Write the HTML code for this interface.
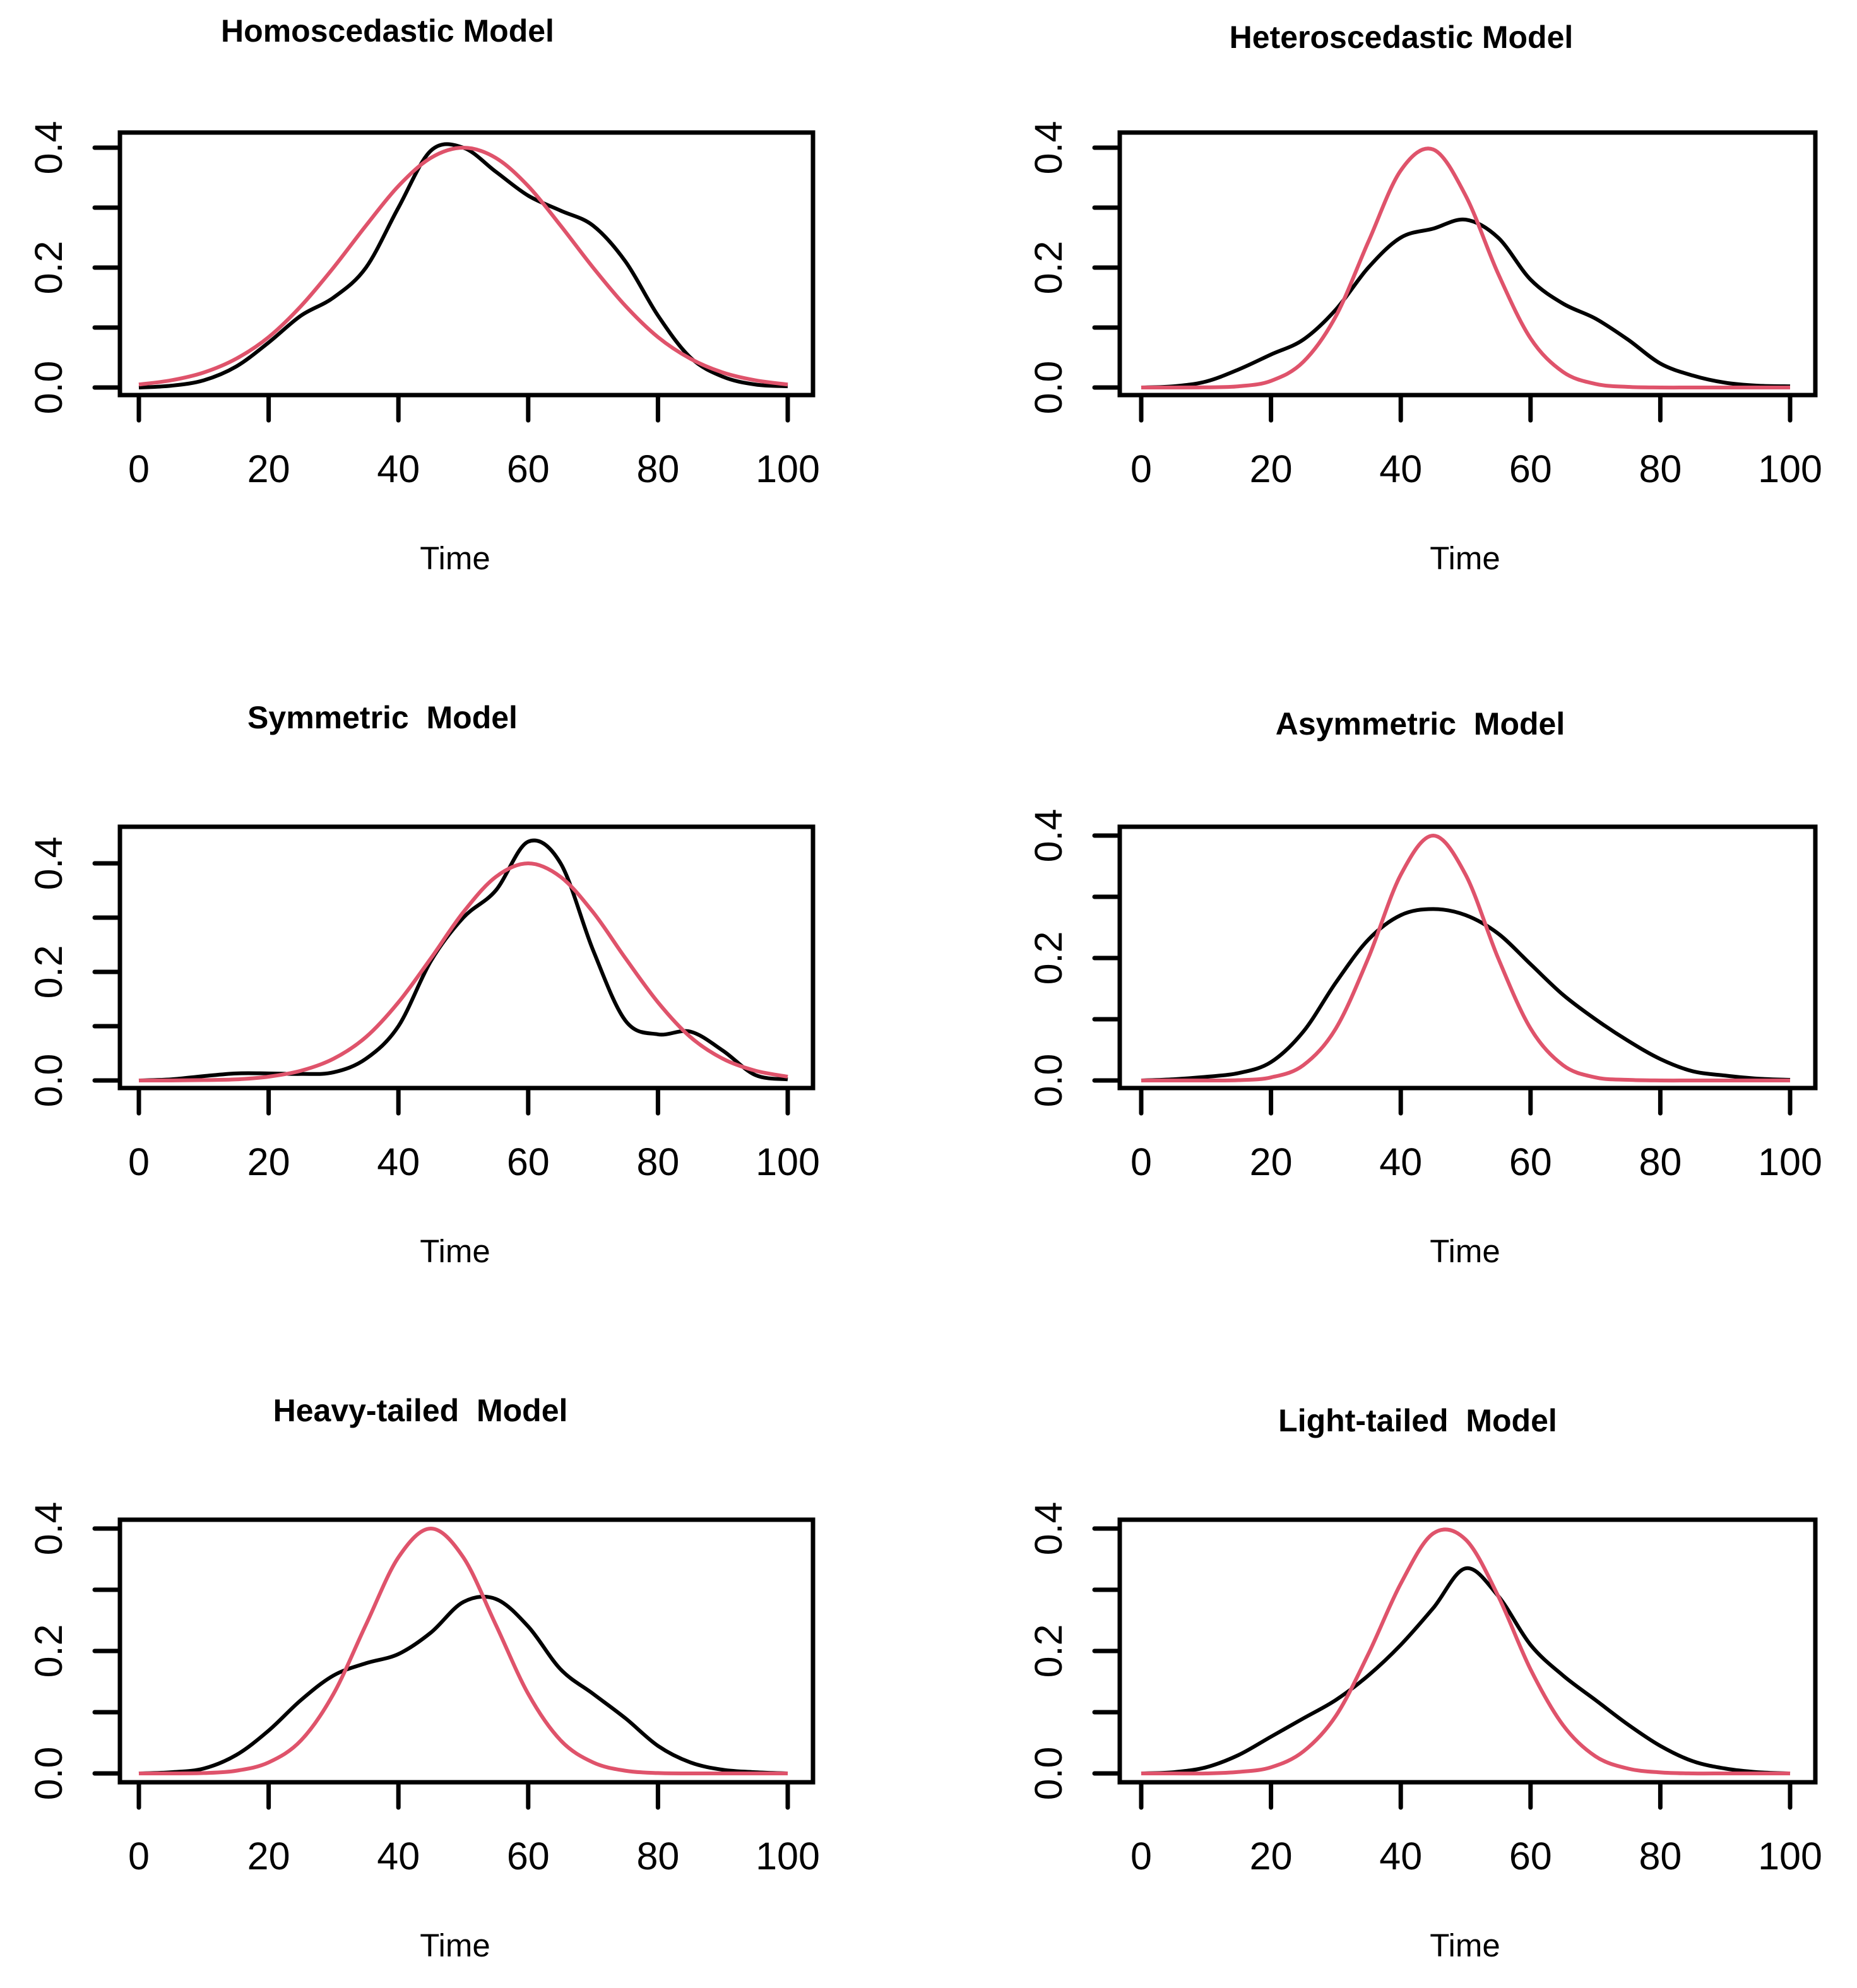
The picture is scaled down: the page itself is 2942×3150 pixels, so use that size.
<!DOCTYPE html>
<html><head><meta charset="utf-8"><style>
html,body{margin:0;padding:0;background:#fff;}
svg{display:block;font-family:"Liberation Sans",Arial,sans-serif;}
text{white-space:pre;}
</style></head><body>
<svg id="chart" width="2942" height="3150" viewBox="0 0 2942 3150" xmlns="http://www.w3.org/2000/svg"></svg>
<script>
const times = [0,5,10,15,20,25,30,35,40,45,50,55,60,65,70,75,80,85,90,95,100];
const xTicks = [0,20,40,60,80,100];
const yTicks = [0,0.1,0.2,0.3,0.4];
const yLabels = ["0.0","0.2","0.4"];
const titles = ["Homoscedastic Model","Heteroscedastic Model","Symmetric  Model","Asymmetric  Model","Heavy-tailed  Model","Light-tailed  Model"];
const black1 = [0,0.003,0.012,0.035,0.075,0.12,0.15,0.2,0.3,0.395,0.40,0.36,0.32,0.295,0.27,0.21,0.12,0.05,0.018,0.005,0.002];
const red1 = [0.005,0.012,0.025,0.048,0.084,0.136,0.2,0.27,0.336,0.383,0.4,0.383,0.336,0.27,0.2,0.136,0.084,0.048,0.025,0.012,0.005];
const black2 = [0,0.002,0.01,0.03,0.055,0.08,0.13,0.2,0.25,0.265,0.28,0.25,0.18,0.14,0.115,0.08,0.04,0.02,0.008,0.003,0.002];
const red2 = [0,0,0.0003,0.002,0.011,0.043,0.119,0.243,0.362,0.397,0.32,0.19,0.082,0.026,0.006,0.001,0,0,0,0,0];
const black3 = [0,0.002,0.008,0.013,0.013,0.012,0.015,0.04,0.1,0.22,0.3,0.35,0.44,0.4,0.24,0.11,0.085,0.09,0.055,0.01,0.002];
const red3 = [0,0,0.0007,0.002,0.007,0.018,0.04,0.08,0.144,0.225,0.31,0.375,0.4,0.375,0.31,0.225,0.144,0.08,0.04,0.018,0.007];
const black4 = [0,0.002,0.006,0.012,0.03,0.08,0.16,0.23,0.27,0.28,0.27,0.24,0.19,0.14,0.1,0.065,0.035,0.015,0.008,0.003,0.001];
const red4 = [0,0,0,0.0005,0.005,0.025,0.085,0.2,0.336,0.4,0.336,0.2,0.085,0.025,0.005,0.001,0,0,0,0,0];
const black5 = [0,0.002,0.008,0.03,0.07,0.12,0.16,0.18,0.195,0.23,0.28,0.285,0.24,0.17,0.13,0.09,0.045,0.018,0.006,0.002,0];
const red5 = [0,0,0.0006,0.0044,0.018,0.054,0.13,0.243,0.353,0.4,0.353,0.243,0.13,0.054,0.018,0.0044,0.0006,0,0,0,0];
const black6 = [0,0.002,0.01,0.03,0.06,0.09,0.12,0.16,0.21,0.27,0.335,0.29,0.21,0.16,0.12,0.08,0.045,0.02,0.008,0.002,0];
const red6 = [0,0,0,0.0024,0.01,0.036,0.094,0.195,0.31,0.392,0.382,0.29,0.17,0.079,0.028,0.008,0.0017,0,0,0,0];
const blacks = [black1,black2,black3,black4,black5,black6];
const reds = [red1,red2,red3,red4,red5,red6];

const NS="http://www.w3.org/2000/svg";
const svg=document.getElementById('chart');
function mk(tag,attrs,parent){const e=document.createElementNS(NS,tag);for(const k in attrs)e.setAttribute(k,attrs[k]);(parent||svg).appendChild(e);return e;}
const layouts=[
 {bx:190,by:210,bw:1098,bh:416,x0:220,x1:1248,y0:614,per:950,tx:614,ty:66},
 {bx:1774,by:210,bw:1102,bh:416,x0:1808,x1:2836,y0:614,per:950,tx:2210,ty:76},
 {bx:190,by:1310,bw:1098,bh:414,x0:220,x1:1248,y0:1712,per:860,tx:606,ty:1154},
 {bx:1774,by:1310,bw:1102,bh:414,x0:1808,x1:2836,y0:1712,per:970,tx:2240,ty:1164},
 {bx:190,by:2408,bw:1098,bh:416,x0:220,x1:1248,y0:2810,per:970,tx:666,ty:2252},
 {bx:1774,by:2408,bw:1102,bh:416,x0:1808,x1:2836,y0:2810,per:970,tx:2236,ty:2268}
];
function pathFor(vals,xs,ys){
 const pts=vals.map((v,i)=>[xs(times[i]),ys(v)]);
 let d=`M${pts[0][0]},${pts[0][1]}`;
 for(let i=0;i<pts.length-1;i++){
  const p0=pts[Math.max(0,i-1)],p1=pts[i],p2=pts[i+1],p3=pts[Math.min(pts.length-1,i+2)];
  const c1=[p1[0]+(p2[0]-p0[0])/6,p1[1]+(p2[1]-p0[1])/6];
  const c2=[p2[0]-(p3[0]-p1[0])/6,p2[1]-(p3[1]-p1[1])/6];
  d+=` C${c1[0]},${c1[1]} ${c2[0]},${c2[1]} ${p2[0]},${p2[1]}`;
 }
 return d;
}
layouts.forEach((L,pi)=>{
 const right = pi%2===1;
 const g=mk('g',{});
 
 
 const xs=t=>L.x0+(L.x1-L.x0)*t/100;
 const ys=v=>L.y0-v*L.per;
 const t=mk('text',{x:L.tx+(right?10:0),y:L.ty,'text-anchor':'middle','font-size':50,'font-weight':'bold'},g);
 t.textContent=titles[pi];
 
 
 const box=mk('rect',{x:L.bx,y:L.by,width:L.bw,height:L.bh,fill:'none',stroke:'#000','stroke-width':7},g);
 
 
 const xa=mk('g',{},g);
 
 
 const xb=L.by+L.bh;
 mk('line',{x1:xs(xTicks[0]),x2:xs(xTicks[xTicks.length-1]),y1:xb,y2:xb,stroke:'#000','stroke-width':7},xa);
 xTicks.forEach(v=>{
  mk('line',{x1:xs(v),x2:xs(v),y1:xb,y2:xb+40,stroke:'#000','stroke-width':7,'stroke-linecap':'round'},xa);
  const tl=mk('text',{x:xs(v),y:xb+138,'text-anchor':'middle','font-size':61},xa);
  tl.textContent=v;
  
  
 });
 const xt=mk('text',{x:(L.bx+L.bw/2)-18+(right?14:0),y:xb+276,'text-anchor':'middle','font-size':51},g);
 xt.textContent='Time';
 
 
 const ya=mk('g',{},g);
 
 
 mk('line',{x1:L.bx,x2:L.bx,y1:ys(0),y2:ys(0.4),stroke:'#000','stroke-width':7},ya);
 yTicks.forEach(v=>{
  mk('line',{x1:L.bx,x2:L.bx-40,y1:ys(v),y2:ys(v),stroke:'#000','stroke-width':7,'stroke-linecap':'round'},ya);
 });
 yLabels.forEach(s=>{
  const v=parseFloat(s);
  const lx=L.bx-114,ly=ys(v);
  const yl=mk('text',{x:lx,y:ly,'text-anchor':'middle','font-size':61,transform:`rotate(-90 ${lx} ${ly})`,dy:22},ya);
  yl.textContent=s;
  
  
 });
 const bp=mk('path',{d:pathFor(blacks[pi],xs,ys),fill:'none',stroke:'#000','stroke-width':6,'stroke-linejoin':'round'},g);
 
 
 const rp=mk('path',{d:pathFor(reds[pi],xs,ys),fill:'none',stroke:'#DF536B','stroke-width':6,'stroke-linejoin':'round'},g);
 
 
});
</script>
</body></html>
